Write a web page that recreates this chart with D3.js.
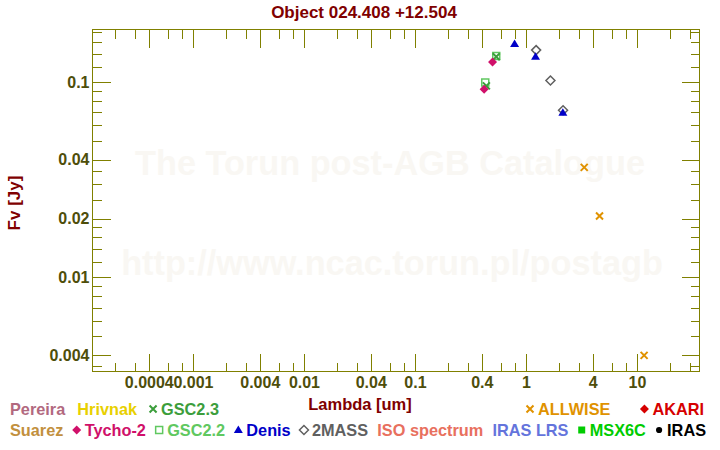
<!DOCTYPE html>
<head>
<meta charset="utf-8">
<script src="https://d3js.org/d3.v7.min.js"></script>
<style>
  body { margin: 0; background: #fff; }
  text { font-family: "Liberation Sans", Arial, sans-serif; font-weight: bold; }
</style>
</head>
<body>
<div id="chart"></div>
<script>

// photometry (wavelength in um, flux in Jy)
const gsc22Lambda = [0.43, 0.54];
const gsc22Flux = [0.0995, 0.136];
const gsc23Lambda = [0.44, 0.54];
const gsc23Flux = [0.0957, 0.135];
const tychoLambda = [0.42, 0.50];
const tychoFlux = [0.092, 0.127];
const twomassLambda = [1.235, 1.662, 2.159];
const twomassFlux = [0.146, 0.102, 0.0718];
const denisLambda = [0.79, 1.22, 2.15];
const denisFlux = [0.157, 0.135, 0.0698];
const allwiseLambda = [3.35, 4.6, 11.6];
const allwiseFlux = [0.0366, 0.0206, 0.00398];

// tick values
const xMajor = [0.0004, 0.001, 0.004, 0.01, 0.04, 0.1, 0.4, 1, 4, 10];
const xMajorLabels = ["0.0004", "0.001", "0.004", "0.01", "0.04", "0.1", "0.4", "1", "4", "10"];
const xMinor = [2e-4, 3e-4, 6e-4, 8e-4, 0.002, 0.003, 0.006, 0.008, 0.02, 0.03, 0.06, 0.08,
                0.2, 0.3, 0.6, 0.8, 2, 3, 6, 8, 20, 30];
const yMajor = [0.004, 0.01, 0.02, 0.04, 0.1];
const yMajorLabels = ["0.004", "0.01", "0.02", "0.04", "0.1"];
const yMinor = [0.0035, 0.005, 0.006, 0.007, 0.008, 0.009, 0.012, 0.014, 0.016, 0.018,
                0.025, 0.03, 0.035, 0.05, 0.06, 0.07, 0.08, 0.09, 0.12, 0.14, 0.16, 0.18];

// legend entries
const legendTopLeft = ["Pereira", "Hrivnak", "GSC2.3"];
const legendTopRight = ["ALLWISE", "AKARI"];
const legendBottom = ["Suarez", "Tycho-2", "GSC2.2", "Denis", "2MASS", "ISO spectrum", "IRAS LRS", "MSX6C", "IRAS"];

// how each catalogue is drawn
const style = {
  "Pereira":      {color: "#b2697f", mark: null},
  "Hrivnak":      {color: "#e8d000", mark: null},
  "GSC2.3":       {color: "#3c9e3c", mark: "cross"},
  "ALLWISE":      {color: "#e09200", mark: "cross"},
  "AKARI":        {color: "#d60000", mark: "diamond"},
  "Suarez":       {color: "#c2903e", mark: null},
  "Tycho-2":      {color: "#d0106a", mark: "diamond"},
  "GSC2.2":       {color: "#60c860", mark: "square"},
  "Denis":        {color: "#0000c8", mark: "triangle"},
  "2MASS":        {color: "#606060", mark: "odiamond"},
  "ISO spectrum": {color: "#e8705e", mark: null},
  "IRAS LRS":     {color: "#6474dc", mark: null},
  "MSX6C":        {color: "#00cc00", mark: "fsquare"},
  "IRAS":         {color: "#000000", mark: "circle"}
};

const series = [
  {name: "GSC2.2", lambda: gsc22Lambda, flux: gsc22Flux},
  {name: "GSC2.3", lambda: gsc23Lambda, flux: gsc23Flux},
  {name: "Tycho-2", lambda: tychoLambda, flux: tychoFlux},
  {name: "2MASS", lambda: twomassLambda, flux: twomassFlux},
  {name: "Denis", lambda: denisLambda, flux: denisFlux},
  {name: "ALLWISE", lambda: allwiseLambda, flux: allwiseFlux}
];

var width = 720,
    height = 450;

var svg = d3.select("#chart")
    .append("svg")
    .attr("width", width)
    .attr("height", height);

// plot frame edges
var pLeft = 92.5, pRight = 699.5, pTop = 29.5, pBottom = 371.5;

var x = d3.scaleLog().domain([1.245e-4, 36.6]).range([pLeft, pRight]);
var y = d3.scaleLog().domain([0.00329, 0.1862]).range([pBottom, pTop]);

var axisColor = "#808000",
    labelColor = "#4e4e0a",
    titleColor = "#800000";

// faint watermark
svg.append("text")
    .attr("x", 390).attr("y", 175)
    .attr("text-anchor", "middle")
    .attr("font-size", 34.3)
    .attr("fill", "#f9f7f3")
    .text("The Torun post-AGB Catalogue");
svg.append("text")
    .attr("x", 392).attr("y", 275)
    .attr("text-anchor", "middle")
    .attr("font-size", 34.3)
    .attr("fill", "#f9f7f3")
    .text("http://www.ncac.torun.pl/postagb");

// marker shapes
function markPath(type) {
  switch (type) {
    case "cross": return "M-3.5,-3.5L3.5,3.5M-3.5,3.5L3.5,-3.5";
    case "diamond":
    case "odiamond": return "M0,-4.5L4.5,0L0,4.5L-4.5,0Z";
    case "square":
    case "fsquare": return "M-3.5,-3.5H3.5V3.5H-3.5Z";
    case "triangle": return "M0,-4.5L4.5,3L-4.5,3Z";
    case "circle": return d3.symbol(d3.symbolCircle, 30)();
  }
}

function drawMark(sel, type, color) {
  sel.attr("d", markPath(type));
  if (type == "cross") {
    sel.attr("fill", "none").attr("stroke", color).attr("stroke-width", 2);
  } else if (type == "odiamond" || type == "square") {
    sel.attr("fill", "none").attr("stroke", color).attr("stroke-width", 1.5);
  } else {
    sel.attr("fill", color).attr("stroke", "none");
  }
}

// axes: majors with labels, minors without
function addAxis(axisFn, scale, values, labels, size, tr, showLabels) {
  var ax = axisFn(scale).tickValues(values).tickSize(-size).tickPadding(showLabels ? 5 : 0)
      .tickFormat(showLabels ? (d, i) => labels[i] : "");
  var g = svg.append("g").attr("transform", tr).call(ax);
  g.select(".domain").remove();
  g.selectAll("line").attr("stroke", axisColor).attr("shape-rendering", "crispEdges");
  g.selectAll("text")
      .attr("fill", labelColor)
      .attr("font-size", 16)
      .attr("font-family", "'Liberation Sans', Arial, sans-serif")
      .attr("font-weight", "bold");
  return g;
}

addAxis(d3.axisBottom, x, xMajor, xMajorLabels, 18, "translate(0," + pBottom + ")", true);
addAxis(d3.axisBottom, x, xMinor, null, 9, "translate(0," + pBottom + ")", false);
addAxis(d3.axisTop, x, xMajor, null, 18, "translate(0," + pTop + ")", false);
addAxis(d3.axisTop, x, xMinor, null, 9, "translate(0," + pTop + ")", false);
var yl = addAxis(d3.axisLeft, y, yMajor, yMajorLabels, 18, "translate(" + pLeft + ",0)", true);
yl.selectAll("text").attr("dx", 2);
addAxis(d3.axisLeft, y, yMinor, null, 9, "translate(" + pLeft + ",0)", false);
addAxis(d3.axisRight, y, yMajor, null, 18, "translate(" + pRight + ",0)", false);
addAxis(d3.axisRight, y, yMinor, null, 9, "translate(" + pRight + ",0)", false);

// frame
svg.append("rect")
    .attr("x", pLeft).attr("y", pTop)
    .attr("width", pRight - pLeft).attr("height", pBottom - pTop)
    .attr("fill", "none")
    .attr("stroke", axisColor)
    .attr("shape-rendering", "crispEdges");

// data points
series.forEach(function(s) {
  var st = style[s.name];
  svg.append("g").selectAll("path")
      .data(s.lambda.map((l, i) => [l, s.flux[i]]))
      .enter().append("path")
      .attr("transform", d => "translate(" + x(d[0]) + "," + y(d[1]) + ")")
      .call(drawMark, st.mark, st.color);
});

// titles
svg.append("text")
    .attr("x", 364).attr("y", 18)
    .attr("text-anchor", "middle")
    .attr("font-size", 17)
    .attr("fill", titleColor)
    .text("Object 024.408 +12.504");

svg.append("text")
    .attr("x", 360).attr("y", 410)
    .attr("text-anchor", "middle")
    .attr("font-size", 16.5)
    .attr("fill", titleColor)
    .text("Lambda [um]");

svg.append("text")
    .attr("transform", "translate(20,203) rotate(-90)")
    .attr("text-anchor", "middle")
    .attr("font-size", 17)
    .attr("fill", titleColor)
    .text("Fv [Jy]");

// legend, laid out as a flow of marker + text
var legend = svg.append("g");
var legendSize = 16.3;

function itemWidth(name) {
  var t = legend.append("text").attr("font-size", legendSize).text(name);
  var w = t.node().getComputedTextLength();
  t.remove();
  return w + (style[name].mark ? 12 : 0);
}

function drawItem(name, x0, yb) {
  var st = style[name];
  var tx = x0;
  if (st.mark) {
    legend.append("path")
        .attr("transform", "translate(" + (x0 + 4) + "," + (yb - 6) + ")")
        .call(drawMark, st.mark, st.color);
    tx = x0 + 12;
  }
  legend.append("text")
      .attr("x", tx).attr("y", yb)
      .attr("font-size", legendSize)
      .attr("fill", st.color)
      .text(name);
}

function flow(names, x0, x1, yb) {
  var widths = names.map(itemWidth);
  var total = d3.sum(widths);
  var gap = (x1 - x0 - total) / (names.length - 1);
  var cx = x0;
  names.forEach(function(n, i) {
    drawItem(n, cx, yb);
    cx += widths[i] + gap;
  });
}

flow(legendTopLeft, 10, 219, 415);
flow(legendTopRight, 526, 704, 415);
flow(legendBottom, 10, 706, 436);

</script>
</body>
